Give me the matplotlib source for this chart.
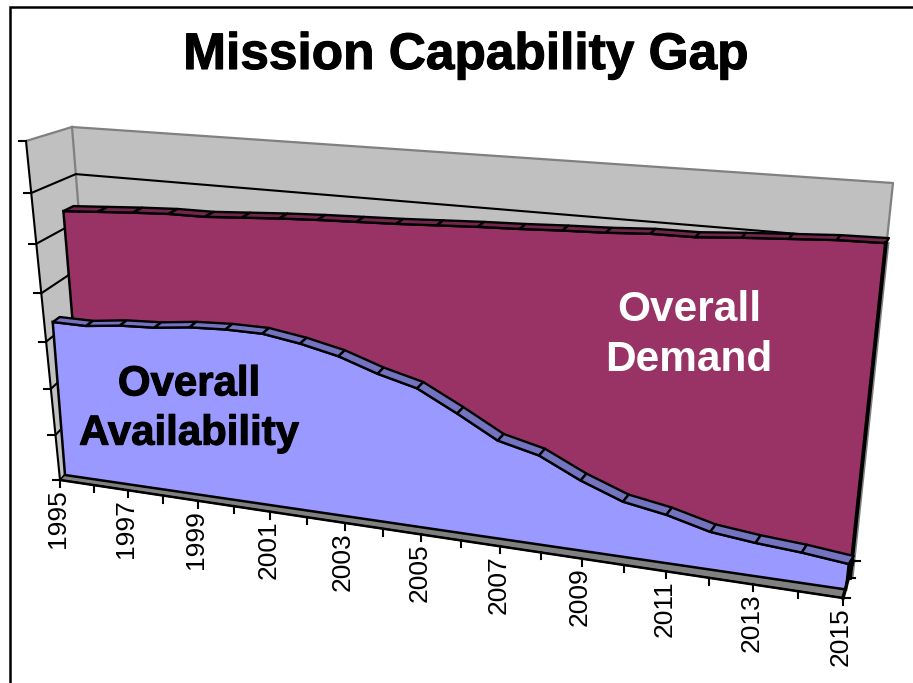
#!/usr/bin/env python3
"""Mission capability gap, Excel style 3D area chart drawn with matplotlib."""

import matplotlib

matplotlib.use("Agg")
import matplotlib.patheffects as pe
import matplotlib.pyplot as plt
import numpy as np

years = np.arange(1995, 2016)
availability = [3.32, 3.31, 3.39, 3.42, 3.50, 3.53, 3.52, 3.40, 3.23, 2.97, 2.77,
                2.37, 1.94, 1.75, 1.37, 1.07, 0.93, 0.72, 0.63, 0.57, 0.48]
demand = [5.49, 5.53, 5.57, 5.60, 5.60, 5.64, 5.68, 5.71, 5.73, 5.75, 5.78,
          5.81, 5.83, 5.86, 5.88, 5.92, 5.92, 5.97, 6.01, 6.05, 6.06]
value_ticks = [0, 1, 2, 3, 4, 5, 6, 7]
label_years = years[::2]

Y0, Y1, V1 = 1995, 2015, 7

BLUE = "#9999FF"
BLUE_TOP = "#7373BF"
PURPLE = "#993366"
PURPLE_TOP = "#73264D"
WALL = "#C0C0C0"
FLOOR = "#808080"


def make_plane(bl, br, tr, tl):
    """Perspective matrix taking (year, value) to pixels of the given quad."""
    src = [(Y0, 0), (Y1, 0), (Y1, V1), (Y0, V1)]
    rows, rhs = [], []
    for (x, y), (u, w) in zip(src, [bl, br, tr, tl]):
        rows.append([x, y, 1, 0, 0, 0, -u * x, -u * y])
        rows.append([0, 0, 0, x, y, 1, -w * x, -w * y])
        rhs += [u, w]
    sol = np.linalg.solve(np.array(rows, float), np.array(rhs, float))
    return np.append(sol, 1).reshape(3, 3)


def project(plane, xs, vs):
    xs, vs = np.broadcast_arrays(np.asarray(xs, float), np.asarray(vs, float))
    h = np.column_stack([xs.ravel(), vs.ravel(), np.ones(xs.size)]) @ plane.T
    return h[:, 0] / h[:, 2], h[:, 1] / h[:, 2]


def shifted(corners, left, right):
    bl, br, tr, tl = corners
    return make_plane(
        (bl[0] + left[0], bl[1] + left[1]),
        (br[0] + right[0], br[1] + right[1]),
        (tr[0] + right[0], tr[1] + right[1]),
        (tl[0] + left[0], tl[1] + left[1]),
    )


# quads of the box and of the two series, value 7 being the top of the box
axis_quad = ((60, 480), (843, 598), (884, 209), (26, 141))
wall_quad = ((97, 437), (853, 561), (893, 183), (72, 127))
avail_quad = ((65, 475), (846, 589.5), (889, 183.5), (38, 139))
demand_quad = ((85, 470), (850, 578), (892, 186), (57, 134))

axis_plane = make_plane(*axis_quad)
wall_plane = make_plane(*wall_quad)
avail_plane = make_plane(*avail_quad)
demand_plane = make_plane(*demand_quad)
avail_back = shifted(avail_quad, (7, -5), (5, -8))
demand_back = shifted(demand_quad, (10, -5), (3, -5))


def draw_series(ax, plane, back, values, face, top, z):
    """Front face of an area and the ribbon along its upper edge."""
    x, y = project(plane, years, values)
    bx, by = project(plane, [Y1, Y0], [0, 0])
    ax.fill(np.r_[x, bx], np.r_[y, by], facecolor=face, edgecolor="black", lw=1.8, joinstyle="miter", zorder=z)
    x2, y2 = project(back, years, values)
    for i in range(len(years) - 1):
        ax.fill(
            [x[i], x[i + 1], x2[i + 1], x2[i]],
            [y[i], y[i + 1], y2[i + 1], y2[i]],
            facecolor=top,
            edgecolor="black",
            lw=1.7,
            joinstyle="round",
            zorder=z,
        )


fig = plt.figure(figsize=(9.13, 6.83), dpi=100)
ax = fig.add_axes([0, 0, 1, 1])
ax.set_xlim(0, 913)
ax.set_ylim(683, 0)
ax.axis("off")

plt.rcParams["font.family"] = ["Liberation Sans", "DejaVu Sans"]

# chart frame, only the top and left show
ax.plot([10, 10, 913], [683, 7, 7], color="black", lw=1.8, solid_joinstyle="miter")

# walls
wx, wy = project(wall_plane, [Y0, Y1, Y1, Y0], [0, 0, V1, V1])
ax.fill(wx, wy, facecolor=WALL, edgecolor="none", zorder=1)
ax_x, ax_y = project(axis_plane, [Y0, Y0], [0, V1])
wl_x, wl_y = project(wall_plane, [Y0, Y0], [0, V1])
ax.fill(
    [ax_x[0], ax_x[1], wl_x[1], wl_x[0]],
    [ax_y[0], ax_y[1], wl_y[1], wl_y[0]],
    facecolor=WALL,
    edgecolor="none",
    zorder=1,
)
ax.plot([ax_x[1], wl_x[1]], [ax_y[1], wl_y[1]], color=FLOOR, lw=1.6, zorder=2)
ax.plot(wx[[3, 2, 1]], wy[[3, 2, 1]], color=FLOOR, lw=1.6, zorder=2)
ax.plot(wl_x, wl_y, color=FLOOR, lw=1.6, zorder=2)

# floor
fl_x, fl_y = project(axis_plane, [Y0, Y1], [0, 0])
fb_x, fb_y = project(wall_plane, [Y1, Y0], [0, 0])
ax.fill(np.r_[fl_x, fb_x], np.r_[fl_y, fb_y], facecolor=FLOOR, edgecolor="black", lw=1.2, zorder=2)

# gridlines across side wall and back wall
for v in value_ticks[1:-1]:
    gx0, gy0 = project(axis_plane, [Y0], [v])
    gx1, gy1 = project(wall_plane, [Y0, Y1], [v, v])
    ax.plot(np.r_[gx0, gx1], np.r_[gy0, gy1], color="black", lw=1.5, zorder=3)

# value axis and its unlabelled ticks
ax.plot(ax_x, ax_y, color="black", lw=1.5, zorder=3)
for v in value_ticks:
    tx, ty = project(axis_plane, [Y0], [v])
    ax.plot([tx[0] - 7, tx[0]], [ty[0], ty[0]], color="black", lw=1.5, zorder=3)

draw_series(ax, demand_plane, demand_back, demand, PURPLE, PURPLE_TOP, 4)

# heavy right hand edge of the demand area
rx, ry = project(demand_plane, [Y1, Y1], [demand[-1], 0])
ax.plot(rx + 2.5, ry, color=FLOOR, lw=1.5, zorder=3.5)
ax.plot(rx, ry, color="black", lw=2.8, zorder=5)

draw_series(ax, avail_plane, avail_back, availability, BLUE, BLUE_TOP, 6)

# depth axis on the right of the floor
for frac in [0, 0.55, 1]:
    dx = fl_x[1] + frac * (fb_x[0] - fl_x[1])
    dy = fl_y[1] + frac * (fb_y[0] - fl_y[1])
    ax.plot([dx, dx + 7], [dy, dy], color="black", lw=1.5, zorder=7)
ax.plot([fl_x[1], fb_x[0]], [fl_y[1], fb_y[0]], color="black", lw=2.5, zorder=7)

# year axis
ax.plot(fl_x, fl_y, color="black", lw=1.8, zorder=7)
tick_x, tick_y = project(axis_plane, years, 0)
for year, tx, ty in zip(years, tick_x, tick_y):
    ax.plot([tx, tx], [ty, ty + 7], color="black", lw=1.5, zorder=7)
    if year in label_years:
        ax.text(tx - 2, ty + 9, str(year), rotation=90, ha="center", va="top", fontsize=19, zorder=8)

heavy = [pe.withStroke(linewidth=0.8, foreground="black")]
ax.text(466, 69, "Mission Capability Gap", ha="center", va="baseline", fontsize=37, fontweight="bold",
        zorder=8, path_effects=heavy)
ax.text(189, 409, "Overall\nAvailability", ha="center", va="center", fontsize=30.2, fontweight="bold",
        color="black", linespacing=1.3, zorder=8, path_effects=heavy)
ax.text(689, 335, "Overall\nDemand", ha="center", va="center", fontsize=30.5, fontweight="bold",
        color="white", linespacing=1.3, zorder=8)

fig.savefig("out.png", dpi=100)
